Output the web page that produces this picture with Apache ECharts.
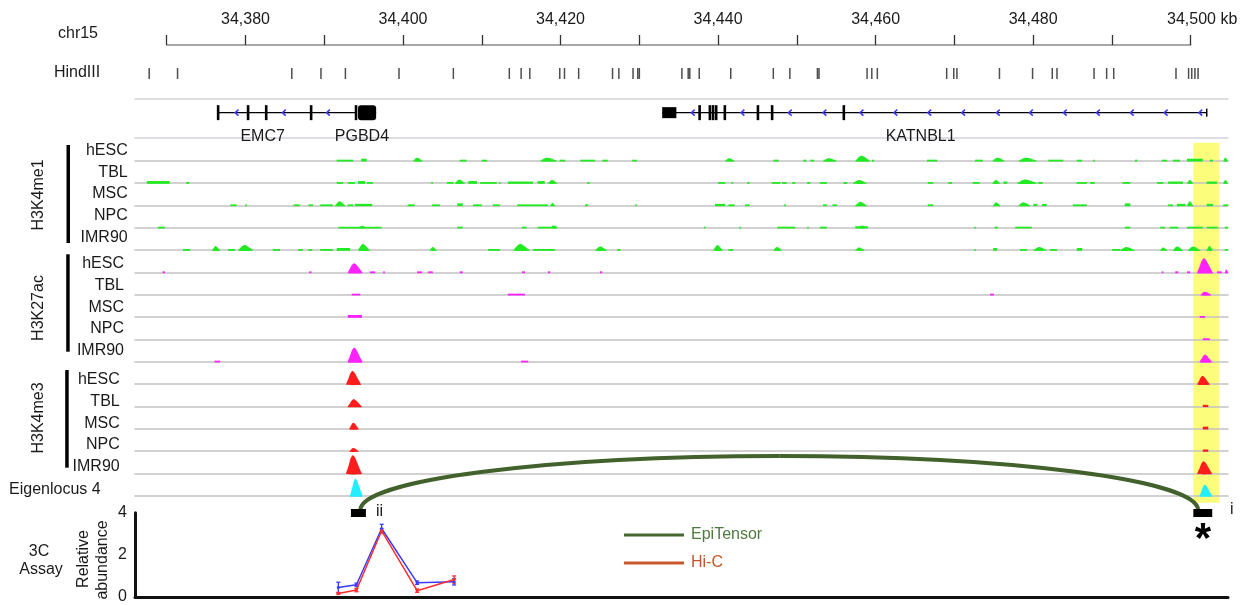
<!DOCTYPE html>
<html>
<head>
<meta charset="utf-8">
<script src="https://cdn.jsdelivr.net/npm/echarts@6/dist/echarts.min.js"></script>
<style>
html, body { margin: 0; padding: 0; background: #fff; }
#chart { width: 1258px; height: 605px; }
</style>
</head>
<body>
<div id="chart"></div>
<script>
// ---- data (positions in kb on chr15) ----
const rulerMin = 34370, rulerMax = 34500
const trackMin = 34366, trackMax = 34504.7

const hindIIISites = [34367.8, 34371.4, 34385.9, 34389.6, 34392.7, 34399.5, 34406.4, 34413.5, 34415.0, 34416.1,
  34419.9, 34420.5, 34422.3, 34426.6, 34427.4, 34429.2, 34429.8, 34430.0, 34435.4, 34436.2, 34436.4, 34437.6,
  34441.6, 34447.0, 34449.1, 34452.6, 34452.8, 34458.9, 34459.5, 34460.2, 34469.0, 34469.9, 34470.3, 34475.7,
  34479.9, 34482.4, 34483.0, 34487.7, 34489.3, 34490.2, 34498.1, 34499.7, 34500.1, 34500.5, 34500.9]

const geneNames = ['EMC7', 'PGBD4', 'KATNBL1']
const geneStarts = [34376.5, 34394.3, 34432.9]
const geneEnds = [34394.0, 34396.6, 34502.0]
const geneLabelKb = [34382.2, 34394.8, 34465.7]
// [start, end, kind] kind 1 = coding exon, 0 = UTR block, 2 = end tick
const exons = [[34376.4, 34376.7, 1], [34380.2, 34380.5, 1], [34382.5, 34382.8, 1], [34388.2, 34388.5, 1],
  [34393.9, 34394.2, 1], [34394.3, 34396.6, 1],
  [34432.9, 34434.7, 0], [34437.5, 34437.8, 1], [34438.8, 34439.1, 1], [34439.2, 34439.5, 1], [34439.6, 34439.9, 1],
  [34440.7, 34441.0, 1], [34444.9, 34445.2, 1], [34446.7, 34447.0, 1], [34455.8, 34456.1, 1], [34502.0, 34502.0, 2]]
const strandArrowKb = [34378.9, 34384.9, 34390.5, 34436.8, 34443.1, 34449.1, 34453.5, 34458.2, 34462.5, 34466.8,
  34471.1, 34475.5, 34479.7, 34484.0, 34488.2, 34492.5, 34496.8, 34501.2]

// signal segments: [startKb, endKb, height]
const me1_hESC = [[34391.6,34393.7,1],[34394.7,34395.4,2],[34401.3,34402.5,3],[34407.2,34408.1,1],[34410.0,34410.7,1],
  [34417.4,34419.6,3],[34419.9,34420.6,1],[34422.5,34424.4,1],[34425.3,34426.0,1],[34429.1,34429.7,1],[34440.9,34442.1,2.5],
  [34447.0,34447.7,1],[34450.8,34451.2,1],[34451.7,34452.2,1],[34453.3,34455.1,2.5],[34457.4,34459.3,5],[34459.5,34459.8,1],
  [34466.5,34467.8,1],[34472.6,34473.6,1],[34474.8,34476.4,3],[34478.1,34480.5,3],[34481.9,34483.8,1],[34485.5,34486.2,1],
  [34487.6,34487.8,1],[34492.9,34493.2,1],[34496.3,34497.0,1],[34497.7,34498.6,1],[34499.5,34501.5,2],[34502.4,34502.8,1],
  [34504.1,34504.7,3]]
const me1_TBL = [[34367.5,34370.4,2],[34372.5,34372.9,1],[34391.6,34392.4,1],[34393.0,34393.9,1],[34394.3,34395.2,2],
  [34395.4,34396.2,1],[34403.6,34403.8,1],[34405.6,34406.4,1],[34406.6,34407.9,3.5],[34408.3,34409.4,2],[34409.8,34411.9,1],
  [34412.2,34412.4,1],[34413.3,34416.5,1.5],[34417.1,34418.0,2],[34418.4,34419.6,3],[34423.4,34423.7,1],[34440.0,34440.9,1],
  [34441.7,34441.9,1],[34443.7,34444.0,1],[34446.8,34447.9,1],[34448.1,34448.7,1],[34449.4,34449.8,1],[34451.3,34451.7,1],
  [34452.9,34453.8,1],[34455.9,34456.4,1],[34457.1,34458.9,3],[34466.6,34467.3,1],[34469.2,34469.7,1],[34472.3,34473.2,1],
  [34474.8,34475.8,3],[34476.2,34476.7,1.5],[34477.9,34480.5,3.5],[34480.6,34481.2,1],[34485.5,34486.8,1],[34487.2,34487.8,1],
  [34491.3,34492.3,1],[34495.7,34496.5,1],[34497.1,34499.0,1.5],[34499.5,34500.3,3],[34502.0,34503.3,1.5],[34504.1,34504.7,3]]
const me1_MSC = [[34378.1,34378.9,1],[34380.0,34380.2,1],[34386.1,34386.9,1],[34388.0,34388.6,1],[34389.5,34391.1,1],
  [34391.4,34392.7,4],[34393.0,34393.7,1],[34393.9,34396.1,1.5],[34400.6,34401.5,1],[34403.7,34404.7,1],[34406.9,34407.6,2],
  [34408.9,34410.0,1],[34411.4,34412.3,1],[34414.5,34418.4,1],[34418.7,34419.3,2.5],[34423.1,34423.5,1],[34429.5,34429.7,1],
  [34439.6,34440.9,1.5],[34441.3,34442.1,1],[34443.4,34444.0,1],[34448.4,34448.6,1],[34453.3,34453.8,1],[34454.5,34455.1,1],
  [34457.4,34458.9,3.5],[34466.6,34467.3,1],[34474.9,34475.8,3],[34478.1,34479.6,3],[34480.0,34480.5,1.5],[34481.1,34481.7,1.5],
  [34485.0,34486.8,1],[34491.6,34492.3,2],[34497.1,34497.7,1],[34498.2,34499.3,1.5],[34499.5,34500.3,4],[34502.0,34502.8,1.5],
  [34504.1,34504.7,1]]
const me1_NPC = [[34368.9,34369.8,1],[34391.8,34397.3,1],[34394.6,34395.1,1.8],[34406.9,34407.6,1],[34415.1,34415.7,1],
  [34417.1,34419.6,1],[34418.9,34419.4,2],[34438.2,34438.4,1],[34442.7,34442.9,1],[34447.5,34449.8,1],[34451.3,34451.5,1],
  [34452.9,34453.8,1],[34457.4,34459.0,1.5],[34458.0,34458.5,2],[34472.5,34472.7,1],[34475.1,34475.5,1],[34477.7,34479.8,1],
  [34491.6,34492.3,1],[34496.1,34496.7,1],[34497.3,34498.4,1],[34499.5,34501.5,1],[34502.0,34503.4,1],[34504.3,34504.7,1]]
const me1_IMR90 = [[34372.1,34373.0,1],[34375.8,34376.8,4],[34377.8,34378.7,1],[34379.1,34381.0,5],[34383.5,34384.4,1],
  [34386.7,34387.3,1],[34388.0,34388.5,1],[34389.5,34391.1,1],[34391.6,34393.3,2],[34394.3,34395.8,6],[34403.4,34404.3,3],
  [34410.8,34412.3,1],[34414.0,34416.1,6],[34416.5,34419.3,1],[34424.4,34425.9,3.5],[34427.2,34427.6,1],[34439.4,34440.6,5],
  [34441.3,34441.9,1],[34447.0,34448.1,3],[34457.4,34458.6,2.5],[34472.5,34472.7,1],[34474.9,34475.4,2],[34478.3,34479.2,1],
  [34480.0,34481.7,3],[34482.1,34483.0,1],[34485.5,34486.2,2],[34490.0,34491.0,1],[34491.0,34492.9,3],[34496.1,34497.0,2.5],
  [34497.7,34499.0,3.5],[34499.6,34501.2,3.5],[34502.0,34502.8,4],[34504.3,34504.7,1]]

const ac_hESC = [[34369.5,34369.8,1],[34388.1,34388.4,1],[34393.0,34394.9,9],[34395.8,34396.5,1],[34397.5,34397.7,1],
  [34401.8,34402.4,1],[34403.2,34403.8,1],[34407.2,34407.6,1],[34415.1,34415.5,1],[34418.4,34418.7,1],[34425.0,34425.3,1],
  [34496.3,34496.5,1],[34498.0,34498.4,1],[34499.5,34499.9,1],[34500.8,34502.8,14],[34503.3,34503.9,1],[34504.3,34504.7,3]]
const ac_TBL = [[34393.5,34394.6,1],[34413.3,34415.5,1],[34474.5,34475.0,1],[34501.2,34502.6,3]]
const ac_MSC = [[34393.0,34394.8,2],[34501.1,34501.8,1]]
const ac_NPC = [[34501.5,34502.4,1]]
const ac_IMR90 = [[34376.1,34376.8,1],[34393.0,34394.9,14],[34415.0,34415.9,1],[34501.1,34502.7,7]]

const me3_hESC = [[34392.8,34394.7,13],[34500.8,34502.4,8]]
const me3_TBL = [[34393.0,34394.8,7],[34501.5,34502.2,1.5]]
const me3_MSC = [[34393.2,34394.4,6],[34501.5,34502.2,2]]
const me3_NPC = [[34393.2,34394.4,3],[34501.5,34502.2,1.5]]
const me3_IMR90 = [[34392.8,34394.8,18],[34500.8,34502.7,12]]
const eigenlocus4 = [[34393.3,34394.9,17],[34501.1,34502.7,11]]

const highlightKb = [[34500.3, 34503.6]]
const anchorBoxes = [[34393.4, 34395.3], [34500.3, 34502.7]]
const epiTensorLoops = [[34394.6, 34500.9]]

const threeCKb = [34391.8, 34394.1, 34397.3, 34401.8, 34406.5]
const blueAbundance = [0.45, 0.58, 3.25, 0.68, 0.72]
const blueError = [0.25, 0.08, 0.2, 0.08, 0.15]
const redAbundance = [0.17, 0.33, 3.14, 0.30, 0.83]
const redError = [0.05, 0.08, 0.1, 0.08, 0.17]

// ---- chart ----
const FONT = 'Liberation Sans, Arial, sans-serif'
const TXT = '#1a1a1a'
const GREEN = '#22ea22', MAGENTA = '#ff22ff', RED = '#ff1c1c', CYAN = '#22eeff'

let grids = [], xAxes = [], yAxes = [], series = []

function addGrid(left, width, top, height, ymax, xOpts) {
    let g = grids.length
    grids.push({ left: left, width: width, top: top, height: height })
    let base = { type: 'value', gridIndex: g, min: trackMin, max: trackMax, axisLine: { show: false, onZero: false },
        axisTick: { show: false }, axisLabel: { show: false }, splitLine: { show: false } }
    xAxes.push(Object.assign(base, xOpts || {}))
    yAxes.push({ type: 'value', gridIndex: g, min: 0, max: ymax, show: false })
    return { x: xAxes.length - 1, y: yAxes.length - 1, g: g }
}

// ruler
let ruler = addGrid(166.7, 1024, 45, 10, 1, {
    min: rulerMin, max: rulerMax, interval: 10, position: 'top',
    axisLine: { show: true, onZero: false, lineStyle: { color: '#8a8a8a', width: 1.5 } },
    axisTick: { show: true, length: 10, lineStyle: { color: '#333', width: 1.3 } },
    axisLabel: {
        show: true, margin: 17, fontSize: 16, color: TXT, fontFamily: FONT, showMaxLabel: true, showMinLabel: true,
        formatter: function (v) {
            if ((v - 34380) % 20 !== 0) return ''
            let s = Math.floor(v / 1000) + ',' + String(v % 1000).padStart(3, '0')
            return v === rulerMax ? '{pad|}' + s + '{kb| kb}' : s
        },
        rich: { pad: { width: 23 }, kb: { fontSize: 16, color: TXT, fontFamily: FONT } }
    }
})

// HindIII sites
let hind = addGrid(135, 1093, 66, 15, 1)
series.push({
    type: 'scatter', xAxisIndex: hind.x, yAxisIndex: hind.y, symbol: 'rect', symbolSize: [1.5, 11],
    itemStyle: { color: '#222' }, data: hindIIISites.map(k => [k, 0.5]), silent: true
})

// genes
let gene = addGrid(135, 1093, 99, 39, 1, { position: 'bottom',
    axisLine: { show: true, onZero: false, lineStyle: { color: '#d2d2da', width: 1.5 } } })
xAxes.push({ type: 'value', gridIndex: gene.g, min: trackMin, max: trackMax, position: 'top',
    axisLine: { show: true, onZero: false, lineStyle: { color: '#d2d2da', width: 1.5 } }, axisTick: { show: false },
    axisLabel: { show: false }, splitLine: { show: false } })
const GENE_Y = 0.65
series.push({
    type: 'custom', xAxisIndex: gene.x, yAxisIndex: gene.y, silent: true, z: 3,
    data: geneNames.map((n, i) => [geneStarts[i], geneEnds[i]]),
    renderItem: function (params, api) {
        let a = api.coord([api.value(0), GENE_Y]), b = api.coord([api.value(1), GENE_Y])
        return { type: 'line', shape: { x1: a[0], y1: a[1], x2: b[0], y2: b[1] }, style: { stroke: '#000', lineWidth: 1.2 } }
    }
})
series.push({
    type: 'custom', xAxisIndex: gene.x, yAxisIndex: gene.y, silent: true, z: 4,
    data: exons,
    renderItem: function (params, api) {
        let kind = api.value(2)
        let a = api.coord([api.value(0), GENE_Y]), b = api.coord([api.value(1), GENE_Y])
        let h = kind === 1 ? 15 : (kind === 0 ? 11 : 8)
        let minW = kind === 2 ? 1.5 : 2.6
        let w = Math.max(b[0] - a[0], minW)
        let x = (a[0] + b[0]) / 2 - w / 2
        return { type: 'rect', shape: { x: x, y: a[1] - h / 2, width: w, height: h, r: w > 6 && kind === 1 ? 3 : 0 },
            style: { fill: '#000' } }
    }
})
series.push({
    type: 'custom', xAxisIndex: gene.x, yAxisIndex: gene.y, silent: true, z: 4,
    data: strandArrowKb.map(k => [k]),
    renderItem: function (params, api) {
        let p = api.coord([api.value(0), GENE_Y])
        return { type: 'polyline', shape: { points: [[p[0] + 1.8, p[1] - 3], [p[0] - 1.5, p[1]], [p[0] + 1.8, p[1] + 3]] },
            style: { stroke: '#3535ff', lineWidth: 1.5, fill: null } }
    }
})
series.push({
    type: 'custom', xAxisIndex: gene.x, yAxisIndex: gene.y, silent: true, z: 4,
    data: geneNames.map((n, i) => [geneLabelKb[i], n]),
    renderItem: function (params, api) {
        let p = api.coord([api.value(0), 0.03])
        return { type: 'text', x: p[0], y: p[1], style: { text: geneNames[params.dataIndex], fill: TXT,
            font: '16px ' + FONT, align: 'center', verticalAlign: 'middle' } }
    }
})

// highlight behind signal tracks
let hl = addGrid(135, 1093, 142.7, 360, 1)
series.push({
    type: 'custom', xAxisIndex: hl.x, yAxisIndex: hl.y, silent: true, z: 0,
    data: highlightKb,
    renderItem: function (params, api) {
        let a = api.coord([api.value(0), 1]), b = api.coord([api.value(1), 0])
        return { type: 'rect', shape: { x: a[0], y: a[1], width: b[0] - a[0], height: b[1] - a[1] }, style: { fill: '#fdfd7c' } }
    }
})

// signal tracks
const tracks = [
    [me1_hESC, GREEN], [me1_TBL, GREEN], [me1_MSC, GREEN], [me1_NPC, GREEN], [me1_IMR90, GREEN],
    [ac_hESC, MAGENTA], [ac_TBL, MAGENTA], [ac_MSC, MAGENTA], [ac_NPC, MAGENTA], [ac_IMR90, MAGENTA],
    [me3_hESC, RED], [me3_TBL, RED], [me3_MSC, RED], [me3_NPC, RED], [me3_IMR90, RED],
    [eigenlocus4, CYAN]
]
// bell-like outline of a peak (fraction of width, fraction of height)
const PEAK_SHAPE = [[0, 0], [0.06, 0.18], [0.16, 0.45], [0.26, 0.78], [0.36, 0.96], [0.44, 1], [0.54, 0.9],
    [0.64, 0.72], [0.74, 0.5], [0.84, 0.28], [0.93, 0.1], [1, 0]]

function renderSignal(params, api) {
    let s = api.value(0), e = api.value(1), h = api.value(2)
    let color = api.visual('color')
    let p0 = api.coord([s, 0]), p1 = api.coord([e, h])
    if (h <= 2) {
        return { type: 'rect', shape: { x: p0[0], y: p1[1], width: Math.max(p1[0] - p0[0], 1.2), height: p0[1] - p1[1] + 0.8 },
            style: { fill: color } }
    }
    let pts = PEAK_SHAPE.map(q => api.coord([s + q[0] * (e - s), q[1] * h]))
    pts[0][1] += 0.8
    pts[pts.length - 1][1] += 0.8
    return { type: 'polygon', shape: { points: pts, smooth: 0.2 }, style: { fill: color } }
}

tracks.forEach(function (t, i) {
    let top = 140.7 + i * 22.33
    let ax = addGrid(135, 1093, top, 20, 20, {
        z: 1, axisLine: { show: true, onZero: false, lineStyle: { color: '#c2c2c2', width: 1.5 } }
    })
    series.push({
        type: 'custom', xAxisIndex: ax.x, yAxisIndex: ax.y, silent: true, z: 2,
        itemStyle: { color: t[1] }, data: t[0], renderItem: renderSignal
    })
})

// EpiTensor loop and anchors
let arc = addGrid(135, 1093, 440, 80, 80)
series.push({
    type: 'custom', name: 'EpiTensor', xAxisIndex: arc.x, yAxisIndex: arc.y, silent: true, z: 5,
    itemStyle: { color: '#46672f' }, data: epiTensorLoops,
    renderItem: function (params, api) {
        let a = api.coord([api.value(0), 10]), b = api.coord([api.value(1), 10])
        let top = api.coord([api.value(0), 64])[1]
        let half = (b[0] - a[0]) / 2, cx = a[0] + half, rise = a[1] - top, k = 0.5523
        let st = { stroke: '#42612c', lineWidth: 4, fill: null }
        return { type: 'group', children: [
            { type: 'bezierCurve', shape: { x1: a[0], y1: a[1], cpx1: a[0], cpy1: a[1] - k * rise, cpx2: cx - k * half, cpy2: top, x2: cx, y2: top }, style: st },
            { type: 'bezierCurve', shape: { x1: cx, y1: top, cpx1: cx + k * half, cpy1: top, cpx2: b[0], cpy2: b[1] - k * rise, x2: b[0], y2: b[1] }, style: st }
        ] }
    }
})
series.push({
    type: 'custom', xAxisIndex: arc.x, yAxisIndex: arc.y, silent: true, z: 6,
    data: anchorBoxes,
    renderItem: function (params, api) {
        let a = api.coord([api.value(0), 11]), b = api.coord([api.value(1), 3])
        return { type: 'rect', shape: { x: a[0], y: a[1], width: b[0] - a[0], height: b[1] - a[1] }, style: { fill: '#000' } }
    }
})

// 3C assay
let c3 = addGrid(135, 1093, 512.7, 88.3, 4, {
    axisLine: { show: true, onZero: false, lineStyle: { color: '#111', width: 3 } }
})
yAxes[c3.y] = { type: 'value', gridIndex: c3.g, min: 0, max: 4, interval: 2,
    axisLine: { show: true, lineStyle: { color: '#111', width: 3 } }, axisTick: { show: false },
    splitLine: { show: false }, axisLabel: { fontSize: 16, color: TXT, fontFamily: FONT, margin: 8 } }

function errorBars(vals, errs, color) {
    return {
        type: 'custom', xAxisIndex: c3.x, yAxisIndex: c3.y, silent: true, z: 3,
        data: threeCKb.map((k, i) => [k, vals[i], errs[i]]),
        renderItem: function (params, api) {
            let lo = api.coord([api.value(0), api.value(1) - api.value(2)])
            let hi = api.coord([api.value(0), api.value(1) + api.value(2)])
            let st = { stroke: color, lineWidth: 1.3 }
            return { type: 'group', children: [
                { type: 'line', shape: { x1: lo[0], y1: lo[1], x2: hi[0], y2: hi[1] }, style: st },
                { type: 'line', shape: { x1: lo[0] - 2, y1: lo[1], x2: lo[0] + 2, y2: lo[1] }, style: st },
                { type: 'line', shape: { x1: hi[0] - 2, y1: hi[1], x2: hi[0] + 2, y2: hi[1] }, style: st }
            ] }
        }
    }
}
series.push({
    type: 'line', xAxisIndex: c3.x, yAxisIndex: c3.y, z: 3, symbol: 'circle', symbolSize: 3,
    color: '#3b3bff', lineStyle: { width: 1.5, color: '#3b3bff' },
    data: threeCKb.map((k, i) => [k, blueAbundance[i]])
})
series.push({
    type: 'line', xAxisIndex: c3.x, yAxisIndex: c3.y, z: 4, symbol: 'circle', symbolSize: 3,
    color: '#ff2d2d', lineStyle: { width: 1.5, color: '#ff2d2d' },
    data: threeCKb.map((k, i) => [k, redAbundance[i]])
})
series.push(errorBars(blueAbundance, blueError, '#3b3bff'))
series.push(errorBars(redAbundance, redError, '#ff2d2d'))
series.push({
    type: 'line', name: 'Hi-C', xAxisIndex: c3.x, yAxisIndex: c3.y, data: [],
    color: '#c9572c', itemStyle: { color: '#c9572c' }, lineStyle: { color: '#c9572c' }
})

// ---- text labels ----
function txt(x, y, text, align, extra) {
    return Object.assign({ type: 'text', x: x, y: y, silent: true, z: 10,
        style: { text: text, fill: TXT, font: '16px ' + FONT, align: align || 'center', verticalAlign: 'middle' } }, extra || {})
}
let graphics = [
    txt(78, 34, 'chr15'), txt(77, 73, 'HindIII'),
    txt(39, 195, 'H3K4me1', 'center', { rotation: Math.PI / 2 }),
    txt(39, 308, 'H3K27ac', 'center', { rotation: Math.PI / 2 }),
    txt(39, 418, 'H3K4me3', 'center', { rotation: Math.PI / 2 }),
    txt(9, 490, 'Eigenlocus 4', 'left'),
    txt(39, 551.5, '3C'), txt(41, 570, 'Assay'),
    txt(83.3, 559, 'Relative', 'center', { rotation: Math.PI / 2 }),
    txt(102.5, 560, 'abundance', 'center', { rotation: Math.PI / 2 }),
    txt(376, 512, 'ii', 'left'), txt(1230, 510, 'i', 'left'),
    { type: 'text', x: 1203, y: 540, silent: true, z: 10,
      style: { text: '*', fill: '#000', font: 'bold 42px ' + FONT, align: 'center', verticalAlign: 'middle' } },
    { type: 'rect', shape: { x: 66.5, y: 145, width: 3.5, height: 98 }, style: { fill: '#000' } },
    { type: 'rect', shape: { x: 66.2, y: 254.3, width: 3.5, height: 97.4 }, style: { fill: '#000' } },
    { type: 'rect', shape: { x: 65.2, y: 370, width: 3.5, height: 97.7 }, style: { fill: '#000' } }
]
const cellTypes = ['hESC', 'TBL', 'MSC', 'NPC', 'IMR90']
const labelY = [[151, 172.5, 194, 215.8, 237.5], [263.7, 285.5, 307.5, 329, 350.8], [379.7, 401.7, 423.3, 444.8, 466.7]]
const labelRight = [127.7, 124, 119.7]
labelY.forEach(function (ys, g) {
    ys.forEach(function (y, i) { graphics.push(txt(labelRight[g], y, cellTypes[i], 'right')) })
})

let chart = echarts.init(document.getElementById('chart'))
chart.setOption({
    animation: false,
    backgroundColor: '#fff',
    grid: grids,
    xAxis: xAxes,
    yAxis: yAxes,
    legend: {
        data: [
            { name: 'EpiTensor', icon: 'rect', textStyle: { color: '#4f7a3e' } },
            { name: 'Hi-C', icon: 'rect', textStyle: { color: '#c4552b' } }
        ],
        orient: 'vertical', left: 619, top: 522, itemWidth: 60, itemHeight: 3, itemGap: 12,
        selectedMode: false,
        textStyle: { fontSize: 16, fontFamily: FONT, padding: [0, 0, 0, 2] }
    },
    graphic: graphics,
    series: series
})
</script>
</body>
</html>
